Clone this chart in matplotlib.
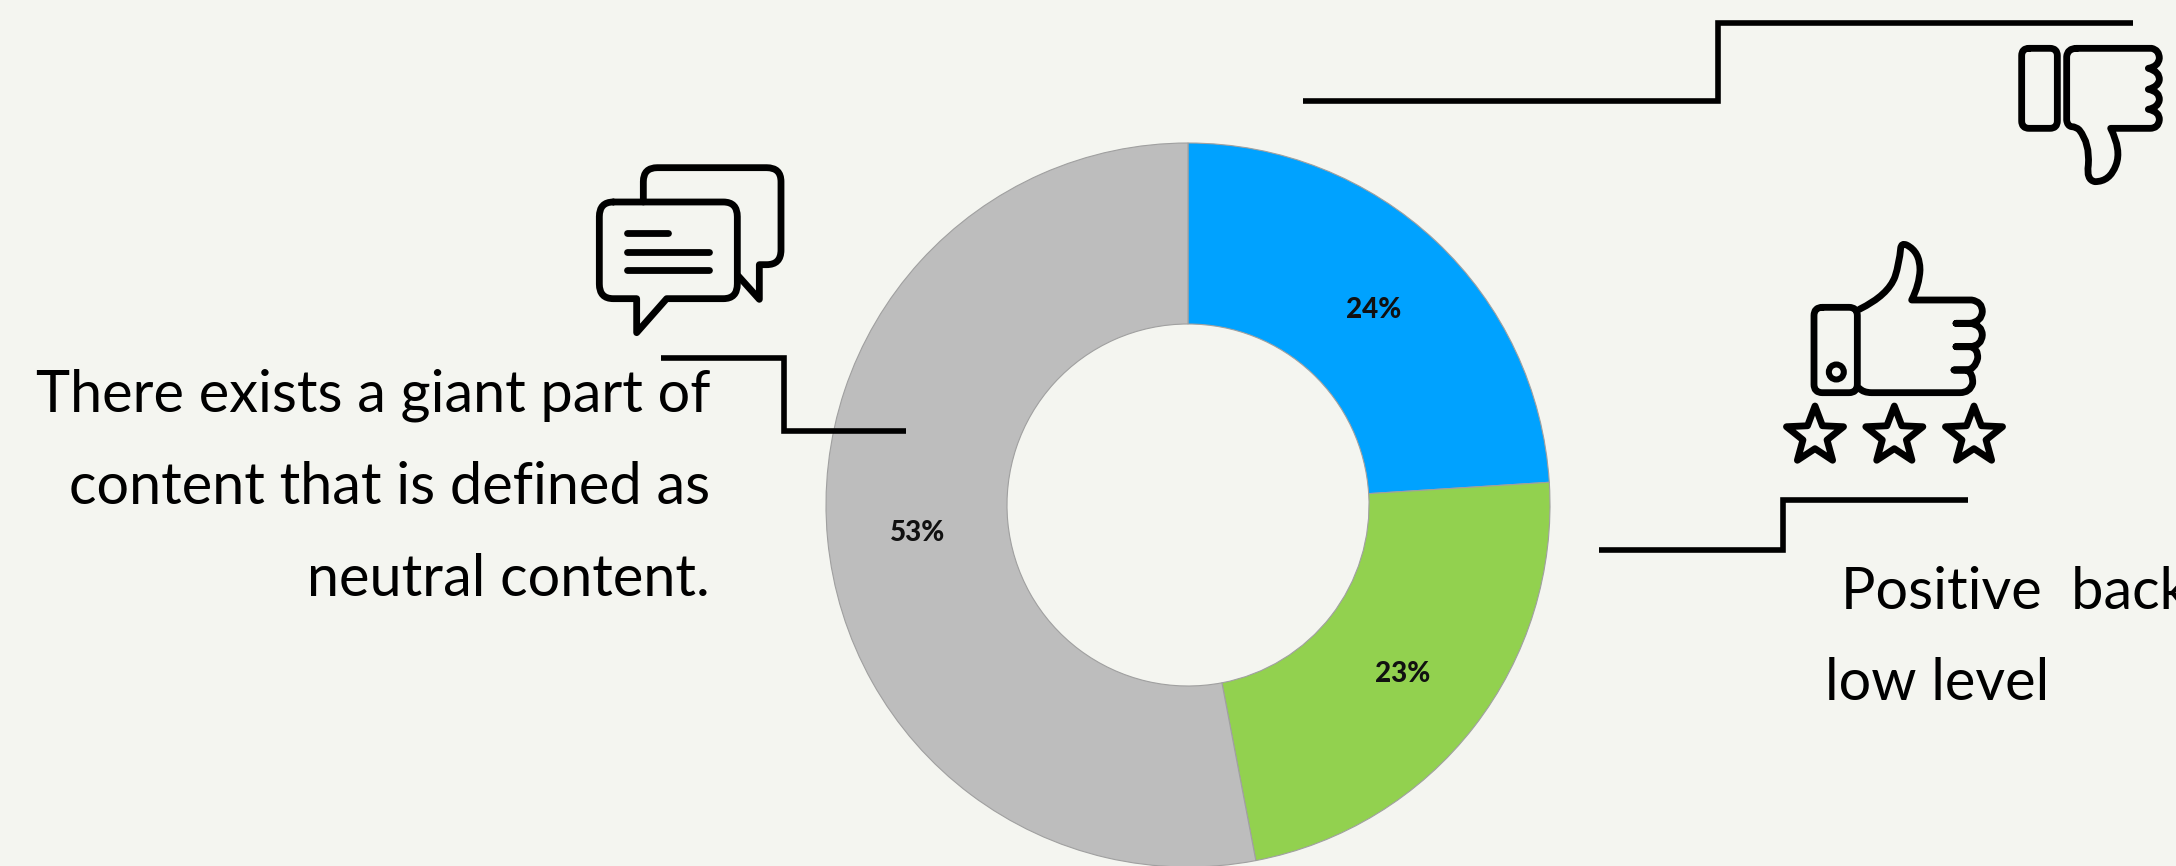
import numpy as np
from matplotlib import pyplot as plt
from matplotlib.patches import Circle, PathPatch, Polygon
from matplotlib.path import Path

plt.rcParams['font.family'] = ['Lato', 'DejaVu Sans']

W, H = 2176, 866
BG = '#F4F5F0'
INK = '#000000'

# donut slices, clockwise from 12 o'clock
categories = ['Positive', 'Negative', 'Neutral']
shares = [24, 23, 53]
slice_colors = ['#00A2FF', '#92D14F', '#BDBDBD']

left_lines = ['There exists a giant part of', 'content that is defined as', 'neutral content.']
right_lines = ['Positive  back', 'low level']


def build_path(ops, ox, oy):
    # small path language; icon coordinates are drawn at 3x, so scale back down
    verts, codes = [], []
    for op in ops:
        pts = [(ox + op[i] / 3, oy + op[i + 1] / 3) for i in range(1, len(op), 2)]
        if op[0] == 'M':
            codes.append(Path.MOVETO)
        elif op[0] == 'L':
            codes.append(Path.LINETO)
        else:
            codes += [Path.CURVE3, Path.CURVE3]
        verts += pts
    return Path(verts, codes)


def rounded_rect(x0, y0, x1, y1, r):
    return [('M', x0 + r, y0), ('L', x1 - r, y0), ('Q', x1, y0, x1, y0 + r),
            ('L', x1, y1 - r), ('Q', x1, y1, x1 - r, y1), ('L', x0 + r, y1),
            ('Q', x0, y1, x0, y1 - r), ('L', x0, y0 + r), ('Q', x0, y0, x0 + r, y0)]


def stroke(ax, ops, ox, oy, lw=6.8):
    ax.add_patch(PathPatch(build_path(ops, ox, oy), fill=False, edgecolor=INK,
                           linewidth=lw * 0.72, capstyle='round', joinstyle='round'))


def star(ax, cx, cy, R=90, r=38, ox=0, oy=0):
    ang = np.deg2rad(-90 + 36 * np.arange(10))
    rad = np.where(np.arange(10) % 2 == 0, R, r)
    pts = np.c_[ox + (cx + rad * np.cos(ang)) / 3, oy + (cy + rad * np.sin(ang)) / 3]
    ax.add_patch(Polygon(pts, closed=True, fill=False, edgecolor=INK, linewidth=6.8 * 0.72,
                         joinstyle='round'))


def chat_icon(ax):
    ox, oy = 560, 140
    front = [('M', 160, 186), ('L', 490, 186), ('Q', 532, 186, 532, 230), ('L', 532, 432),
             ('Q', 532, 476, 490, 476), ('L', 320, 476), ('L', 230, 578), ('L', 230, 476),
             ('L', 160, 476), ('Q', 118, 476, 118, 432), ('L', 118, 230), ('Q', 118, 186, 160, 186)]
    back = [('M', 250, 186), ('L', 250, 125), ('Q', 250, 83, 292, 83), ('L', 620, 83),
            ('Q', 663, 83, 663, 125), ('L', 663, 330), ('Q', 663, 374, 620, 374),
            ('L', 598, 374), ('L', 598, 478), ('L', 535, 408)]
    stroke(ax, front, ox, oy)
    stroke(ax, back, ox, oy)
    for x1, y in [(325, 280), (448, 335), (448, 391)]:
        stroke(ax, [('M', 200, y), ('L', x1, y)], ox, oy)


def thumb_up_icon(ax):
    ox, oy = 1740, 220
    stroke(ax, rounded_rect(222, 262, 352, 518, 25), ox, oy)
    ax.add_patch(Circle((ox + 289 / 3, oy + 456 / 3), 7.5, fill=False, edgecolor=INK,
                        linewidth=6 * 0.72))
    hand = [('M', 358, 268), ('Q', 445, 225, 465, 170), ('Q', 478, 130, 482, 85),
            ('Q', 484, 68, 500, 75), ('Q', 540, 95, 540, 150), ('Q', 538, 195, 515, 240),
            ('L', 695, 240), ('Q', 727, 245, 727, 275), ('Q', 725, 305, 690, 310),
            ('L', 648, 310), ('L', 690, 310), ('Q', 727, 315, 727, 345),
            ('Q', 725, 378, 690, 380), ('L', 648, 380), ('L', 690, 380),
            ('Q', 715, 385, 713, 415), ('Q', 705, 448, 680, 450), ('L', 642, 450),
            ('L', 680, 450), ('Q', 700, 460, 698, 490), ('Q', 690, 518, 660, 518),
            ('L', 395, 518), ('Q', 370, 518, 358, 505)]
    stroke(ax, hand, ox, oy)
    for x in [225, 463, 702]:
        star(ax, x, 648, ox=ox, oy=oy)


def thumb_down_icon(ax):
    ox, oy = 1980, 0
    stroke(ax, rounded_rect(125, 145, 232, 385, 22), ox, oy)
    hand = [('M', 290, 145), ('L', 515, 145), ('Q', 538, 150, 538, 175),
            ('Q', 535, 200, 505, 205), ('Q', 540, 215, 538, 240), ('Q', 535, 260, 505, 268),
            ('Q', 540, 275, 538, 300), ('Q', 535, 322, 505, 328), ('Q', 540, 335, 538, 360),
            ('Q', 535, 385, 510, 385), ('L', 392, 385), ('Q', 425, 450, 408, 495),
            ('Q', 390, 545, 345, 545), ('Q', 318, 540, 325, 495), ('Q', 330, 430, 298, 390),
            ('Q', 288, 380, 275, 380), ('Q', 262, 378, 260, 360), ('L', 260, 170),
            ('Q', 262, 145, 290, 145)]
    stroke(ax, hand, ox, oy)


fig = plt.figure(figsize=(W / 100, H / 100), dpi=100, facecolor=BG)

# page layer in pixel coordinates, y down; it sits above the donut
page = fig.add_axes([0, 0, 1, 1], zorder=2)
page.set_xlim(0, W)
page.set_ylim(H, 0)
page.axis('off')

# donut
cx, cy, R = 1188, 505, 362
donut = fig.add_axes([(cx - R) / W, 1 - (cy + R) / H, 2 * R / W, 2 * R / H], zorder=1)
wedges, _, pct_labels = donut.pie(shares, colors=slice_colors, startangle=90, counterclock=False,
                                  radius=1, autopct='%.0f%%', pctdistance=0.75,
                                  wedgeprops={'width': 0.5, 'edgecolor': '#A0A0A0', 'linewidth': 0.8},
                                  textprops={'fontsize': 20, 'fontweight': 'black', 'color': '#111111'})
for t in pct_labels:
    x, y = t.get_position()
    t.set_position((x, y - 0.008))
donut.set_xlim(-1, 1)
donut.set_ylim(-1, 1)

# connectors
for xs, ys in [((661, 784, 784, 906), (358, 358, 431, 431)),
               ((1599, 1783, 1783, 1968), (550, 550, 500, 500)),
               ((1303, 1718, 1718, 2133), (101, 101, 23, 23))]:
    page.plot(xs, ys, color=INK, linewidth=5.6 * 0.72, solid_joinstyle='miter',
              solid_capstyle='butt')

# captions
for line, y in zip(left_lines, [412, 504, 596]):
    page.text(710, y, line, ha='right', va='baseline', fontsize=41.5, color=INK)
page.text(1841, 609, right_lines[0], ha='left', va='baseline', fontsize=41.5, color=INK)
page.text(1825, 700, right_lines[1], ha='left', va='baseline', fontsize=41.5, color=INK)

chat_icon(page)
thumb_up_icon(page)
thumb_down_icon(page)

fig.savefig('out.png', dpi=100, facecolor=BG)
